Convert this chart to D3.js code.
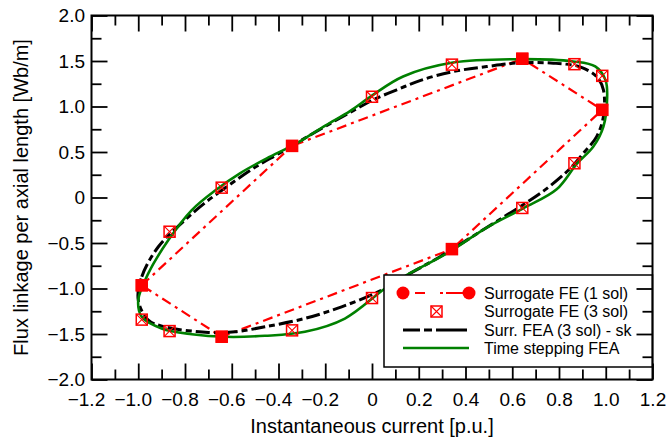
<!DOCTYPE html>
<html><head><meta charset="utf-8">
<script src="https://cdn.jsdelivr.net/npm/d3@7"></script>
<style>
body{margin:0;background:#fff}
svg{display:block}
text{font-family:"Liberation Sans",Arial,Helvetica,sans-serif;fill:#000}
</style>
</head><body>
<svg id="c" width="668" height="441"></svg>
<script>
// ---- data ----
const xTicks = [-1.2,-1.0,-0.8,-0.6,-0.4,-0.2,0,0.2,0.4,0.6,0.8,1.0,1.2];
const xTickLabels = ["\u22121.2","\u22121.0","\u22120.8","\u22120.6","\u22120.4","\u22120.2","0","0.2","0.4","0.6","0.8","1.0","1.2"];
const xMinor = [-1.1,-0.9,-0.7,-0.5,-0.3,-0.1,0.1,0.3,0.5,0.7,0.9,1.1];
const yTicks = [-2.0,-1.5,-1.0,-0.5,0,0.5,1.0,1.5,2.0];
const yTickLabels = ["\u22122.0","\u22121.5","\u22121.0","\u22120.5","0","0.5","1.0","1.5","2.0"];
const yMinor = [-1.75,-1.25,-0.75,-0.25,0.25,0.75,1.25,1.75];

// Surrogate FE (1 sol)
const sol1X = [-0.985,-0.342,0.643,0.985,0.342,-0.643];
const sol1Y = [-0.965,0.567,1.525,0.963,-0.567,-1.53];

// Surrogate FE (3 sol)
const sol3X = [-0.985,-0.866,-0.643,-0.342,0,0.342,0.643,0.866,0.985,0.985,0.866,0.643,0.342,0,-0.342,-0.643,-0.866,-0.985];
const sol3Y = [-0.965,-0.376,0.108,0.567,1.107,1.46,1.525,1.465,1.337,0.963,0.376,-0.115,-0.567,-1.105,-1.46,-1.53,-1.468,-1.342];

// Surr. FEA (3 sol) - sk
const skX = [-1.0,-0.985,-0.914,-0.8,-0.72,-0.62,-0.508,-0.394,-0.251,-0.08,0.006,0.106,0.205,0.348,0.491,0.633,0.776,0.89,0.961,0.99,0.99,0.961,0.904,0.84,0.733,0.619,0.491,0.291,0.163,0.041,-0.13,-0.287,-0.458,-0.586,-0.7,-0.886,-0.957];
const skY = [-1.127,-0.871,-0.541,-0.248,-0.07,0.12,0.32,0.49,0.706,0.955,1.075,1.183,1.285,1.384,1.439,1.48,1.476,1.435,1.329,1.183,0.889,0.669,0.486,0.3,0.07,-0.125,-0.33,-0.651,-0.834,-1.018,-1.201,-1.329,-1.421,-1.476,-1.483,-1.421,-1.348];

// Time stepping FEA
const tsX = [-1.0,-0.957,-0.871,-0.771,-0.668,-0.565,-0.436,-0.322,-0.2,-0.094,0.0,0.133,0.347,0.633,0.86,0.955,0.999,1.006,0.99,0.947,0.876,0.79,0.647,0.491,0.32,0.148,0.056,-0.116,-0.287,-0.458,-0.629,-0.771,-0.9,-0.985];
const tsY = [-1.127,-0.834,-0.468,-0.138,0.083,0.266,0.449,0.596,0.79,0.95,1.12,1.33,1.483,1.52,1.495,1.44,1.29,1.1,0.78,0.56,0.37,0.09,-0.119,-0.33,-0.614,-0.853,-1.0,-1.33,-1.476,-1.52,-1.531,-1.502,-1.439,-1.311];

const legendLabels = ["Surrogate FE (1 sol)","Surrogate FE (3 sol)","Surr. FEA (3 sol) - sk","Time stepping FEA"];

// ---- drawing ----
const svg = d3.select("#c");
const x = d3.scaleLinear().domain([-1.2,1.2]).range([91.5,652.5]);
const y = d3.scaleLinear().domain([-2,2]).range([379.5,15.5]);
const FONT = '"Liberation Sans",Arial,Helvetica,sans-serif';
const RED = "#ff0000", GREEN = "#008000";

const tmp = svg.append("text").attr("font-size",19).attr("font-family",FONT).text("\u2212");
const minusW = tmp.node().getComputedTextLength();
tmp.remove();

function styleAxis(g){
  g.select(".domain").remove();
  g.attr("font-family",FONT).attr("font-size",19);
  g.selectAll(".tick line").attr("stroke","#000").attr("stroke-width",1.8);
}

// bottom
svg.append("g").attr("transform",`translate(0,${y(-2)})`)
  .call(d3.axisBottom(x).tickValues(xTicks).tickSize(-16).tickPadding(13).tickFormat((d,i)=>xTickLabels[i]))
  .call(styleAxis)
  .call(g=>g.selectAll(".tick text").attr("dx",d=>d<0?-minusW/2:0));
svg.append("g").attr("transform",`translate(0,${y(-2)})`)
  .call(d3.axisBottom(x).tickValues(xMinor).tickSize(-10).tickFormat(""))
  .call(styleAxis);
// top
svg.append("g").attr("transform",`translate(0,${y(2)})`)
  .call(d3.axisTop(x).tickValues(xTicks).tickSize(-16).tickFormat(""))
  .call(styleAxis);
svg.append("g").attr("transform",`translate(0,${y(2)})`)
  .call(d3.axisTop(x).tickValues(xMinor).tickSize(-10).tickFormat(""))
  .call(styleAxis);
// left
svg.append("g").attr("transform",`translate(${x(-1.2)},0)`)
  .call(d3.axisLeft(y).tickValues(yTicks).tickSize(-16).tickPadding(6.5).tickFormat((d,i)=>yTickLabels[i]))
  .call(styleAxis);
svg.append("g").attr("transform",`translate(${x(-1.2)},0)`)
  .call(d3.axisLeft(y).tickValues(yMinor).tickSize(-10).tickFormat(""))
  .call(styleAxis);

// data lines
const sol1 = sol1X.map((v,i)=>[v,sol1Y[i]]);
const sol3 = sol3X.map((v,i)=>[v,sol3Y[i]]);
const sk = skX.map((v,i)=>[v,skY[i]]);
const ts = tsX.map((v,i)=>[v,tsY[i]]);
const lin = d3.line().x(d=>x(d[0])).y(d=>y(d[1])).curve(d3.curveLinearClosed);
const smooth = d3.line().x(d=>x(d[0])).y(d=>y(d[1])).curve(d3.curveCatmullRomClosed.alpha(0.5));

svg.append("path").attr("d",lin(sol1))
  .attr("fill","none").attr("stroke",RED).attr("stroke-width",2.2).attr("stroke-dasharray","10,5,3,5");
svg.append("path").attr("d",smooth(sk))
  .attr("fill","none").attr("stroke","#000").attr("stroke-width",3).attr("stroke-dasharray","14,4,6,4");
svg.append("path").attr("d",smooth(ts))
  .attr("fill","none").attr("stroke",GREEN).attr("stroke-width",2.6);

// 3 sol markers (box with X)
function boxX(g, cx, cy, s){
  g.append("rect").attr("x",cx-s/2).attr("y",cy-s/2).attr("width",s).attr("height",s)
    .attr("fill","none").attr("stroke",RED).attr("stroke-width",1.5);
  g.append("path").attr("d",`M${cx-s/2},${cy-s/2}L${cx+s/2},${cy+s/2}M${cx+s/2},${cy-s/2}L${cx-s/2},${cy+s/2}`)
    .attr("stroke",RED).attr("stroke-width",1.1).attr("fill","none");
}
const m3 = svg.append("g");
sol3.forEach(d=>boxX(m3, x(d[0]), y(d[1]), 11));
// 1 sol markers
svg.append("g").selectAll("rect").data(sol1).join("rect")
  .attr("x",d=>x(d[0])-6).attr("y",d=>y(d[1])-6).attr("width",12).attr("height",12).attr("fill",RED);

// legend
const lg = svg.append("g");
lg.append("rect").attr("x",384).attr("y",275).attr("width",x(1.2)-384).attr("height",92)
  .attr("fill","#fff").attr("stroke","#000").attr("stroke-width",1.5);
const rowsY = [293,311.5,330,348];
lg.append("line").attr("x1",403).attr("x2",469).attr("y1",rowsY[0]).attr("y2",rowsY[0])
  .attr("stroke",RED).attr("stroke-width",2.2).attr("stroke-dasharray","0,12,10,15,3,3,10");
lg.selectAll("circle").data([403,469]).join("circle").attr("cx",d=>d).attr("cy",rowsY[0]).attr("r",6.5).attr("fill",RED);
boxX(lg, 436.5, rowsY[1], 11);
lg.append("line").attr("x1",403).attr("x2",467).attr("y1",rowsY[2]).attr("y2",rowsY[2])
  .attr("stroke","#000").attr("stroke-width",3).attr("stroke-dasharray","17,4,8,4,34");
lg.append("line").attr("x1",403).attr("x2",469).attr("y1",rowsY[3]).attr("y2",rowsY[3])
  .attr("stroke",GREEN).attr("stroke-width",2.6);
lg.selectAll("text").data(legendLabels).join("text")
  .attr("x",484).attr("y",(d,i)=>rowsY[i]).attr("dy","0.36em")
  .attr("font-size",16).text(d=>d);

// right axis (drawn over legend)
svg.append("g").attr("transform",`translate(${x(1.2)},0)`)
  .call(d3.axisRight(y).tickValues(yTicks).tickSize(-16).tickFormat(""))
  .call(styleAxis);
svg.append("g").attr("transform",`translate(${x(1.2)},0)`)
  .call(d3.axisRight(y).tickValues(yMinor).tickSize(-10).tickFormat(""))
  .call(styleAxis);

// frame
svg.append("rect").attr("x",x(-1.2)).attr("y",y(2)).attr("width",x(1.2)-x(-1.2)).attr("height",y(-2)-y(2))
  .attr("fill","none").attr("stroke","#000").attr("stroke-width",2);

// axis titles
svg.append("text").attr("x",(x(-1.2)+x(1.2))/2).attr("y",433).attr("text-anchor","middle")
  .attr("font-size",20).text("Instantaneous current [p.u.]");
svg.append("text").attr("transform",`translate(28,${(y(-2)+y(2))/2}) rotate(-90)`).attr("text-anchor","middle")
  .attr("font-size",20).text("Flux linkage per axial length [Wb/m]");
</script>
</body></html>
